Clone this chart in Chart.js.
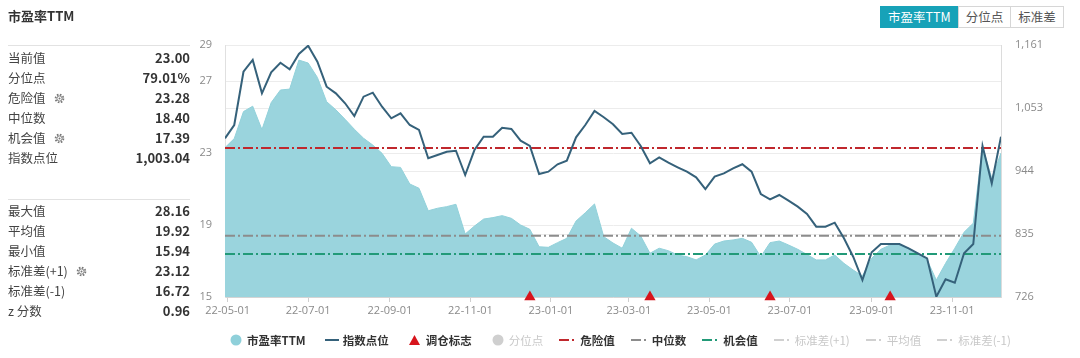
<!DOCTYPE html>
<html><head><meta charset="utf-8">
<script src="https://cdn.jsdelivr.net/npm/chart.js@4/dist/chart.umd.min.js"></script>
<style>
html,body{margin:0;padding:0;background:#fff;width:1080px;height:358px;overflow:hidden;font-family:"Noto Sans CJK SC","Noto Sans",sans-serif;}
#wrap{position:relative;width:1080px;height:358px;}
#c{position:absolute;left:0;top:0;}
.title{position:absolute;left:8px;top:6px;font-size:13px;font-weight:bold;color:#333;line-height:20px;}
.sep{position:absolute;left:8px;width:182px;height:1px;background:#e2e2e2;}
.row{position:absolute;left:8px;width:182px;height:20px;line-height:20px;font-size:12.5px;color:#444;white-space:nowrap;}
.row .v{position:absolute;right:0;top:0;font-weight:bold;color:#333;font-size:13px;}
.row svg{vertical-align:-1px;margin-left:8px;}
.btns{position:absolute;left:881px;top:6px;height:22px;display:flex;}
.btn{height:20px;line-height:20px;border:1px solid #d6d6d6;font-size:12.5px;color:#555;padding:0 7px;background:#fff;margin-left:-1px;}
.btn.on{background:#17a2b8;border-color:#17a2b8;color:#fff;}
#legend{position:absolute;left:226px;top:332px;height:16px;display:flex;align-items:center;font-size:11.5px;white-space:nowrap;}
.li{display:flex;align-items:center;margin-right:16px;color:#333;font-weight:bold;}
.li.off{color:#c8c8c8;font-weight:normal;}
.li .ic{width:20px;height:14px;display:flex;align-items:center;justify-content:center;margin-right:1px;}
</style></head>
<body><div id="wrap">
<canvas id="c" width="1080" height="358"></canvas>
<div class="title">市盈率TTM</div>
<div id="stats"></div>
<div class="btns" id="btns"></div>
<div id="legend"></div>
</div>
<script>
// ---------- data ----------
const startDate = '2022-04-29';            // first weekly observation
const peTTM = [
  23.3, 23.8, 25.3, 25.6, 24.3, 25.8, 26.5, 26.55, 28.16, 28.0,
  27.2, 25.85, 25.4, 24.87, 24.32, 23.82, 23.44, 22.98, 22.24, 22.2,
  21.28, 21.04, 19.79, 19.93, 20.02, 20.15, 18.5, 18.94, 19.33, 19.41,
  19.52, 19.37, 19.0, 18.76, 17.79, 17.76, 18.02, 18.26, 19.22, 19.68,
  20.17, 18.35, 18.0, 17.71, 18.82, 18.39, 17.43, 17.71, 17.57, 17.33,
  17.24, 17.06, 17.33, 17.94, 18.11, 18.17, 18.26, 18.04, 17.24, 18.02,
  18.11, 17.89, 17.65, 17.36, 17.06, 17.06, 17.33, 16.87, 16.5, 16.17,
  17.15, 17.65, 17.89, 17.89, 17.71, 17.43, 17.06, 15.94, 16.87, 17.71,
  18.6, 19.1, 23.35, 21.6, 23.0
];
const indexLevel = [
  1000.2, 1023.2, 1115.2, 1135.4, 1077.9, 1114.2, 1130.7, 1119.4, 1145.8, 1160.1,
  1132.5, 1089.3, 1077.9, 1060.7, 1038.7, 1072.1, 1079.0, 1054.8, 1034.8, 1043.4,
  1023.2, 1014.6, 965.7, 971.4, 977.1, 978.8, 936.9, 980.0, 1003.0, 1003.0,
  1018.5, 1016.3, 996.1, 987.0, 938.6, 942.6, 955.4, 961.6, 1002.0, 1023.2,
  1047.4, 1036.5, 1024.4, 1007.7, 1009.9, 987.0, 957.1, 967.4, 958.1, 950.2,
  942.6, 932.9, 912.7, 934.0, 939.8, 948.5, 955.4, 942.6, 904.1, 894.9,
  902.4, 892.5, 882.2, 869.6, 847.7, 847.7, 854.6, 827.6, 795.9, 755.6,
  803.5, 817.8, 817.8, 817.8, 810.4, 801.7, 793.1, 726.8, 756.9, 751.0,
  801.7, 817.8, 987.0, 922.6, 1003.04
];
const rebalanceWeeks = [33, 46, 59, 72];
const dangerValue = 23.28;
const medianValue = 18.40;
const chanceValue = 17.39;
const peTicks = [15, 19, 23, 27, 29];
const indexMin = 726.3, indexMax = 1161.3;
const dateTicks = ['2022-05-01','2022-07-01','2022-09-01','2022-11-01','2023-01-01','2023-03-01','2023-05-01','2023-07-01','2023-09-01','2023-11-01'];

const statsTop = [['当前值','23.00',0],['分位点','79.01%',0],['危险值','23.28',1],['中位数','18.40',0],['机会值','17.39',1],['指数点位','1,003.04',0]];
const statsBottom = [['最大值','28.16',0],['平均值','19.92',0],['最小值','15.94',0],['标准差(+1)','23.12',1],['标准差(-1)','16.72',0],['z 分数','0.96',0]];
const buttons = ['市盈率TTM','分位点','标准差'];
const legendItems = [
  ['市盈率TTM','circle','#8fd0da',1],['指数点位','line','#35617a',1],['调仓标志','tri','#d7141c',1],
  ['分位点','circle','#cfcfcf',0],['危险值','dash','#c0282d',1],['中位数','dash','#8c8c8c',1],
  ['机会值','dash','#229a78',1],['标准差(+1)','dash','#d0d0d0',0],['平均值','dash','#d0d0d0',0],['标准差(-1)','dash','#d0d0d0',0]
];

// ---------- side panel ----------
const gear = '<svg width="11" height="11" viewBox="0 0 11 11"><circle cx="5.5" cy="5.5" r="3.9" fill="none" stroke="#777" stroke-width="1.8" stroke-dasharray="1.6 1.45"/><circle cx="5.5" cy="5.5" r="2.6" fill="none" stroke="#777" stroke-width="0.9"/><circle cx="5.5" cy="5.5" r="1" fill="#777"/></svg>';
let html = '<div class="sep" style="top:45px"></div><div class="sep" style="top:199px"></div>';
statsTop.forEach((s,i)=>{ html += `<div class="row" style="top:${48+i*20}px">${s[0]}${s[2]?gear:''}<span class="v">${s[1]}</span></div>`; });
statsBottom.forEach((s,i)=>{ html += `<div class="row" style="top:${201+i*20}px">${s[0]}${s[2]?gear:''}<span class="v">${s[1]}</span></div>`; });
document.getElementById('stats').innerHTML = html;
document.getElementById('btns').innerHTML = buttons.map((b,i)=>`<div class="btn${i===0?' on':''}">${b}</div>`).join('');

function icon(kind, color){
  if(kind==='circle') return `<svg width="12" height="12"><circle cx="6" cy="6" r="5.5" fill="${color}"/></svg>`;
  if(kind==='line') return `<svg width="14" height="4"><line x1="0" y1="2" x2="14" y2="2" stroke="${color}" stroke-width="2"/></svg>`;
  if(kind==='tri') return `<svg width="11" height="10"><polygon points="5.5,0 11,10 0,10" fill="${color}"/></svg>`;
  return `<svg width="20" height="4"><line x1="0" y1="2" x2="20" y2="2" stroke="${color}" stroke-width="2" stroke-dasharray="10 3 2 5"/></svg>`;
}
document.getElementById('legend').innerHTML = legendItems.map(l=>`<div class="li${l[3]?'':' off'}"><span class="ic">${icon(l[1],l[2])}</span>${l[0]}</div>`).join('');

// ---------- chart ----------
const DAY = 86400000;
const t0 = Date.parse(startDate);
const xOf = i => i*7;
const xMax = xOf(peTTM.length-1);
const peData = peTTM.map((v,i)=>({x:xOf(i), y:v}));
const idxData = indexLevel.map((v,i)=>({x:xOf(i), y:v}));
const flat = v => [{x:0,y:v},{x:xMax,y:v}];
const dateTickVals = dateTicks.map(s => (Date.parse(s)-t0)/DAY);
const tickFont = {family:'"Open Sans","Noto Sans",sans-serif', size:11};

new Chart(document.getElementById('c'), {
  type:'line',
  data:{datasets:[
    {label:'市盈率TTM', data:peData, yAxisID:'y', backgroundColor:'#9ad4dd', borderColor:'#92d1da', borderWidth:1, fill:'start', pointRadius:0, tension:0, order:10},
    {label:'危险值', data:flat(dangerValue), yAxisID:'y', borderColor:'#c0282d', borderWidth:2, borderDash:[10,3,2,3], pointRadius:0, fill:false, order:5},
    {label:'中位数', data:flat(medianValue), yAxisID:'y', borderColor:'#8c8c8c', borderWidth:2, borderDash:[10,3,2,3], pointRadius:0, fill:false, order:5},
    {label:'机会值', data:flat(chanceValue), yAxisID:'y', borderColor:'#229a78', borderWidth:2, borderDash:[10,3,2,3], pointRadius:0, fill:false, order:5},
    {label:'指数点位', data:idxData, yAxisID:'y2', borderColor:'#35617a', borderWidth:2, pointRadius:0, fill:false, tension:0, order:2},
    {label:'调仓标志', data:rebalanceWeeks.map(w=>({x:xOf(w), y:peTicks[0]})), yAxisID:'y', showLine:false, pointStyle:'triangle', pointRadius:6.5, backgroundColor:'#d7141c', borderWidth:0, clip:false, order:1}
  ]},
  options:{
    responsive:false, animation:false, events:[],
    layout:{padding:{left:190, right:0, top:45, bottom:40}},
    plugins:{legend:{display:false}, tooltip:{enabled:false}},
    scales:{
      x:{type:'linear', min:0, max:xMax,
        afterBuildTicks: s => { s.ticks = dateTickVals.map(v=>({value:v})); },
        afterFit: s => { s.height = 21; },
        grid:{drawOnChartArea:false, drawTicks:true, tickLength:5, tickColor:'#cfcfcf'},
        border:{color:'#d4d4d4'},
        ticks:{autoSkip:false, maxRotation:0, padding:2, color:'#8a8a8a', font:tickFont,
          callback:(v,i)=> dateTicks[i] ? dateTicks[i].slice(2) : ''}
      },
      y:{position:'left', min:peTicks[0], max:peTicks[peTicks.length-1],
        afterBuildTicks: s => { s.ticks = peTicks.map(v=>({value:v})); },
        afterFit: s => { s.width = 35; },
        grid:{color:'#ececec', drawTicks:false},
        border:{color:'#e0e0e0'},
        ticks:{padding:13, color:'#8a8a8a', font:tickFont}
      },
      y2:{position:'right', min:indexMin, max:indexMax,
        afterBuildTicks: s => { const st=(indexMax-indexMin)/4; s.ticks=[0,1,2,3,4].map(k=>({value:indexMin+k*st})); },
        afterFit: s => { s.width = 79; },
        grid:{color:'#ececec', drawTicks:false},
        border:{color:'#dcdcdc'},
        ticks:{padding:14, color:'#8a8a8a', font:tickFont, callback:v=>Math.round(v).toLocaleString('en-US')}
      }
    }
  }
});
</script>
</body></html>
